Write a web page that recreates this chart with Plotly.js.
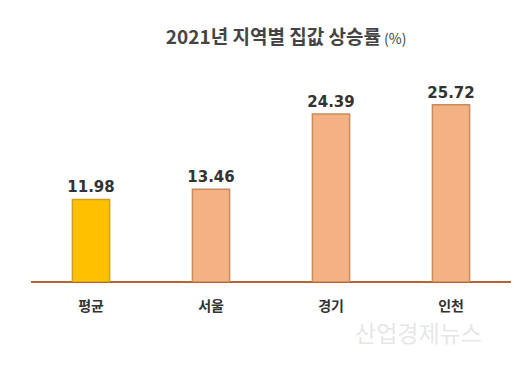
<!DOCTYPE html>
<html><head><meta charset="utf-8">
<script src="https://cdn.plot.ly/plotly-3.0.1.min.js"></script>
<style>body{margin:0;background:#fff}#c{width:525px;height:375px}</style>
</head><body><div id="c"></div>
<script>
const categories = ['평균', '서울', '경기', '인천'];
const values = [11.98, 13.46, 24.39, 25.72];
const valueLabels = ['11.98', '13.46', '24.39', '25.72'];
const barColors = ['#FFC000', '#F4B183', '#F4B183', '#F4B183'];
const barLines = ['#C9A227', '#C98A5E', '#C98A5E', '#C98A5E'];

const trace = {
  type: 'bar', x: categories, y: values,
  text: valueLabels, textposition: 'outside', cliponaxis: false, constraintext: 'none',
  textfont: {family: 'Verdana, DejaVu Sans, sans-serif', size: 15, color: '#333333', weight: 'bold'},
  marker: {color: barColors, line: {color: barLines, width: 1.5}},
  width: 0.31, hoverinfo: 'none'
};
const layout = {
  width: 525, height: 375,
  margin: {l: 31, r: 14, t: 89, b: 93},
  paper_bgcolor: '#fff', plot_bgcolor: '#fff',
  showlegend: false,
  title: {text: '<b>2021년 지역별 집값 상승률</b><span style="font-size:14px"> (%)</span>',
    x: 0.545, xanchor: 'center', y: 0.9, yanchor: 'middle',
    font: {family: 'Noto Sans CJK KR, sans-serif', size: 19, color: '#444444'}},
  xaxis: {type: 'category', showgrid: false, zeroline: false, showline: false, ticks: '',
    tickfont: {family: 'Noto Sans CJK KR, sans-serif', size: 14, color: '#333333', weight: 'bold'},
    ticklabelstandoff: 14},
  yaxis: {range: [0, 28], showgrid: false, showticklabels: false, zeroline: true,
    zerolinecolor: '#B5652B', zerolinewidth: 2, showline: false, ticks: ''},
  annotations: [{text: '산업경제뉴스', xref: 'paper', yref: 'paper', x: 0.808, y: -0.26,
    xanchor: 'center', yanchor: 'middle',
    showarrow: false, font: {family: 'Noto Sans CJK KR, sans-serif', size: 23, color: 'rgba(205,205,205,0.5)'}}]
};
Plotly.newPlot('c', [trace], layout, {displayModeBar: false, staticPlot: true});
</script></body></html>
